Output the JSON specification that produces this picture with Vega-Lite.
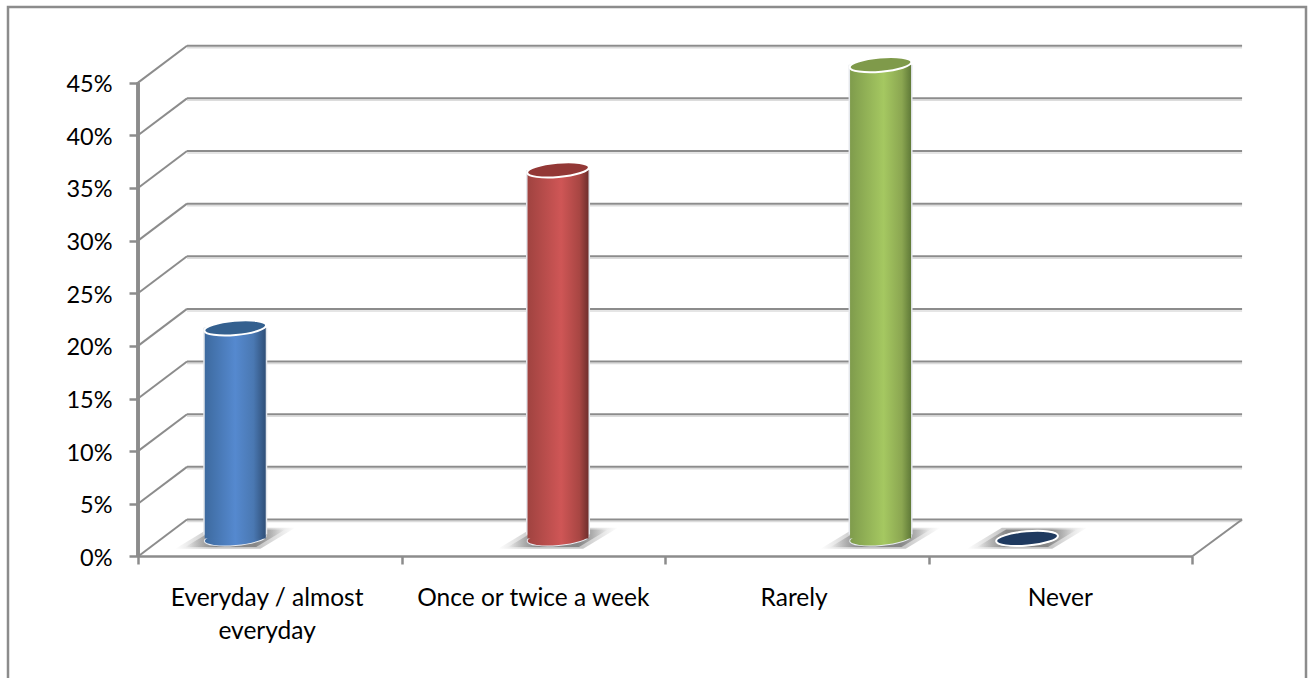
{
  "$schema": "https://vega.github.io/schema/vega-lite/v6.json",
  "autosize": {"type": "none"},
  "width": 1298,
  "height": 673,
  "padding": {"left": 8, "top": 7, "right": 5, "bottom": 0},
  "background": "white",
  "config": {
    "view": {"stroke": "#8c8c8c", "strokeWidth": 2.5, "fill": "white"},
    "font": "Lato"
  },
  "datasets": {
    "levels": [
      {"level": 0}, {"level": 5}, {"level": 10}, {"level": 15}, {"level": 20},
      {"level": 25}, {"level": 30}, {"level": 35}, {"level": 40}, {"level": 45}
    ],
    "answers": [
      {"response": "Everyday / almost everyday", "share": 20, "slot": 0.369},
      {"response": "Once or twice a week", "share": 35, "slot": 1.594},
      {"response": "Rarely", "share": 45, "slot": 2.818},
      {"response": "Never", "share": 0, "slot": 3.374}
    ],
    "categories": [
      {"label": "Everyday / almost\neveryday", "centre": 0.49},
      {"label": "Once or twice a week", "centre": 1.5},
      {"label": "Rarely", "centre": 2.49},
      {"label": "Never", "centre": 3.5}
    ]
  },
  "layer": [
    {
      "data": {"name": "levels"},
      "transform": [{"calculate": "datum.level + 3.51", "as": "backLevel"}],
      "mark": {"type": "rule", "stroke": "#dcdcdc", "strokeWidth": 1.5, "yOffset": 2, "y2Offset": 2},
      "encoding": {
        "x": {"datum": 0.186, "type": "quantitative", "scale": {"domain": [-0.4934, 4.4326], "nice": false, "zero": false, "padding": 0},
          "axis": {"orient": "bottom", "offset": -124, "values": [0, 1, 2, 3, 4], "labels": false, "grid": false, "domain": false, "title": null, "tickSize": 8, "tickWidth": 2.5, "tickColor": "#8c8c8c"}},
        "x2": {"datum": 4.19},
        "y": {"field": "backLevel", "type": "quantitative", "scale": {"domain": [-11.735, 52.185], "nice": false, "zero": false},
          "axis": {"orient": "left", "offset": -130, "values": [0, 5, 10, 15, 20, 25, 30, 35, 40, 45], "labelExpr": "datum.value + '%'", "labelFontSize": 23.5, "labelFont": "Lato", "labelColor": "#000000", "labelPadding": 17, "labelOffset": 2, "grid": false, "domain": false, "title": null, "tickSize": 9, "tickWidth": 2.5, "tickColor": "#8c8c8c"}}
      }
    },
    {
      "data": {"name": "levels"},
      "transform": [{"calculate": "datum.level + 3.51", "as": "backLevel"}],
      "mark": {"type": "rule", "stroke": "#8c8c8c", "strokeWidth": 2},
      "encoding": {
        "x": {"datum": 0.186, "type": "quantitative"},
        "x2": {"datum": 4.19},
        "y": {"field": "backLevel", "type": "quantitative"}
      }
    },
    {
      "data": {"name": "levels"},
      "transform": [{"calculate": "datum.level + 3.51", "as": "backLevel"}],
      "mark": {"type": "rule", "stroke": "#8c8c8c", "strokeWidth": 2},
      "encoding": {
        "x": {"datum": 0, "type": "quantitative"},
        "x2": {"datum": 0.186},
        "y": {"field": "level", "type": "quantitative"},
        "y2": {"field": "backLevel"}
      }
    },
    {
      "data": {"name": "levels"},
      "transform": [{"filter": "datum.level === 0"}, {"calculate": "datum.level + 3.51", "as": "backLevel"}],
      "mark": {"type": "rule", "stroke": "#8c8c8c", "strokeWidth": 2},
      "encoding": {
        "x": {"datum": 4, "type": "quantitative"},
        "x2": {"datum": 4.19},
        "y": {"field": "level", "type": "quantitative"},
        "y2": {"field": "backLevel"}
      }
    },
    {
      "data": {"name": "levels"},
      "transform": [{"filter": "datum.level === 0"}],
      "mark": {"type": "rule", "stroke": "#8c8c8c", "strokeWidth": 2.5},
      "encoding": {
        "x": {"datum": 0, "type": "quantitative"},
        "x2": {"datum": 4},
        "y": {"field": "level", "type": "quantitative"}
      }
    },
    {
      "data": {"name": "levels"},
      "mark": {"type": "rule", "stroke": "#8c8c8c", "strokeWidth": 2.5},
      "encoding": {
        "x": {"datum": 0, "type": "quantitative"},
        "y": {"datum": 0, "type": "quantitative"},
        "y2": {"datum": 45}
      }
    },
    {
      "data": {"name": "answers"},
      "mark": {
        "type": "point", "filled": true, "yOffset": -18, "size": 14400, "opacity": 0.5,
        "shape": "M -1 0.17 L 0.42 0.17 L 1 -0.18 L -0.42 -0.18 Z",
        "fill": {"gradient": "linear", "x1": 0, "x2": 1, "y1": 0, "y2": 0, "stops": [
          {"offset": 0, "color": "rgba(120,120,120,0)"},
          {"offset": 0.3, "color": "rgba(120,120,120,0.85)"},
          {"offset": 0.7, "color": "rgba(120,120,120,0.85)"},
          {"offset": 1, "color": "rgba(120,120,120,0)"}
        ]}
      },
      "encoding": {
        "x": {"field": "slot", "type": "quantitative"},
        "y": {"datum": 0, "type": "quantitative"}
      }
    },
    {
      "data": {"name": "answers"},
      "mark": {
        "type": "point", "filled": true, "yOffset": -18, "size": 10000, "opacity": 0.8,
        "shape": "M -1 0.17 L 0.42 0.17 L 1 -0.18 L -0.42 -0.18 Z",
        "fill": {"gradient": "linear", "x1": 0, "x2": 1, "y1": 0, "y2": 0, "stops": [
          {"offset": 0, "color": "rgba(120,120,120,0)"},
          {"offset": 0.3, "color": "rgba(120,120,120,1)"},
          {"offset": 0.7, "color": "rgba(120,120,120,1)"},
          {"offset": 1, "color": "rgba(120,120,120,0)"}
        ]}
      },
      "encoding": {
        "x": {"field": "slot", "type": "quantitative"},
        "y": {"datum": 0, "type": "quantitative"}
      }
    },
    {
      "data": {"name": "answers"},
      "transform": [{"filter": "datum.share > 0"}],
      "mark": {"type": "bar", "orient": "vertical", "size": 64, "color": "#e4e7ec", "yOffset": -18, "y2Offset": -22},
      "encoding": {
        "x": {"field": "slot", "type": "quantitative"},
        "y": {"field": "share", "type": "quantitative"},
        "y2": {"datum": 0}
      }
    },
    {
      "data": {"name": "answers"},
      "mark": {
        "type": "point", "filled": true, "yOffset": -18, "size": 3844, "angle": -5, "opacity": 1,
        "stroke": "#e8ecf2", "strokeWidth": 1,
        "shape": "M -1 0 A 1 0.23 0 1 1 1 0 A 1 0.23 0 1 1 -1 0 Z"
      },
      "encoding": {
        "x": {"field": "slot", "type": "quantitative"},
        "y": {"datum": 0, "type": "quantitative"},
        "fill": {
          "condition": [
            {"test": "datum.response === 'Everyday / almost everyday'", "value": {"gradient": "linear", "x1": 0, "x2": 1, "y1": 0, "y2": 0, "stops": [{"offset": 0, "color": "#3d6a9f"}, {"offset": 0.5, "color": "#5589cf"}, {"offset": 0.8, "color": "#4a78b2"}, {"offset": 1, "color": "#2f4f78"}]}},
            {"test": "datum.response === 'Once or twice a week'", "value": {"gradient": "linear", "x1": 0, "x2": 1, "y1": 0, "y2": 0, "stops": [{"offset": 0, "color": "#a04340"}, {"offset": 0.55, "color": "#cf5656"}, {"offset": 0.85, "color": "#a84643"}, {"offset": 1, "color": "#6f2e2c"}]}},
            {"test": "datum.response === 'Rarely'", "value": {"gradient": "linear", "x1": 0, "x2": 1, "y1": 0, "y2": 0, "stops": [{"offset": 0, "color": "#7f9c4c"}, {"offset": 0.55, "color": "#a5c861"}, {"offset": 0.85, "color": "#8ba651"}, {"offset": 1, "color": "#607a38"}]}}
          ],
          "value": "#1f3a60"
        }
      }
    },
    {
      "data": {"name": "answers"},
      "transform": [{"filter": "datum.share > 0"}],
      "mark": {"type": "bar", "orient": "vertical", "size": 61, "yOffset": -18, "y2Offset": -18},
      "encoding": {
        "x": {"field": "slot", "type": "quantitative"},
        "y": {"field": "share", "type": "quantitative"},
        "y2": {"datum": 0},
        "fill": {
          "condition": [
            {"test": "datum.response === 'Everyday / almost everyday'", "value": {"gradient": "linear", "x1": 0, "x2": 1, "y1": 0, "y2": 0, "stops": [{"offset": 0, "color": "#3d6a9f"}, {"offset": 0.5, "color": "#5589cf"}, {"offset": 0.8, "color": "#4a78b2"}, {"offset": 1, "color": "#2f4f78"}]}},
            {"test": "datum.response === 'Once or twice a week'", "value": {"gradient": "linear", "x1": 0, "x2": 1, "y1": 0, "y2": 0, "stops": [{"offset": 0, "color": "#a04340"}, {"offset": 0.55, "color": "#cf5656"}, {"offset": 0.85, "color": "#a84643"}, {"offset": 1, "color": "#6f2e2c"}]}},
            {"test": "datum.response === 'Rarely'", "value": {"gradient": "linear", "x1": 0, "x2": 1, "y1": 0, "y2": 0, "stops": [{"offset": 0, "color": "#7f9c4c"}, {"offset": 0.55, "color": "#a5c861"}, {"offset": 0.85, "color": "#8ba651"}, {"offset": 1, "color": "#607a38"}]}}
          ],
          "value": "#1f3a60"
        }
      }
    },
    {
      "data": {"name": "answers"},
      "mark": {
        "type": "point", "filled": true, "yOffset": -18, "size": 3844, "angle": -5, "opacity": 1,
        "stroke": "#ffffff", "strokeWidth": 2,
        "shape": "M -1 0 A 1 0.23 0 1 1 1 0 A 1 0.23 0 1 1 -1 0 Z"
      },
      "encoding": {
        "x": {"field": "slot", "type": "quantitative"},
        "y": {"field": "share", "type": "quantitative"},
        "fill": {
          "field": "response", "type": "nominal", "legend": null,
          "scale": {
            "domain": ["Everyday / almost everyday", "Once or twice a week", "Rarely", "Never"],
            "range": ["#34608f", "#933836", "#7f9a4a", "#1f3a60"]
          }
        }
      }
    },
    {
      "data": {"name": "categories"},
      "mark": {"type": "text", "font": "Lato", "fontSize": 24.5, "color": "#000000", "align": "center", "baseline": "top", "lineBreak": "\n", "lineHeight": 33},
      "encoding": {
        "x": {"field": "centre", "type": "quantitative"},
        "y": {"datum": -2.9, "type": "quantitative"},
        "text": {"field": "label", "type": "nominal"}
      }
    }
  ]
}
